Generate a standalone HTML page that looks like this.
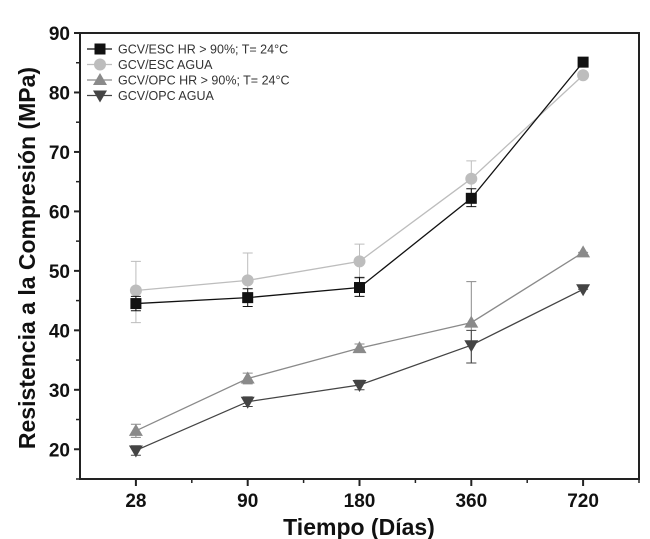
<!DOCTYPE html>
<html><head><meta charset="utf-8">
<style>
html,body{margin:0;padding:0;background:#fff;}
svg{display:block;font-family:"Liberation Sans",Arial,sans-serif;}
</style></head>
<body>
<svg id="chart" width="650" height="539" viewBox="0 0 650 539">
</svg>
<script>
const categories = ["28","90","180","360","720"];
const yTicks = [20,30,40,50,60,70,80,90];
const seriesNames = ["GCV/ESC HR > 90%; T= 24°C","GCV/ESC  AGUA","GCV/OPC HR > 90%; T= 24°C","GCV/OPC AGUA"];
const escHR = [44.5,45.5,47.2,62.2,85.1];
const escHRLo = [43.3,44.0,45.7,60.8,85.1];
const escHRHi = [45.7,47.0,48.9,63.8,85.1];
const escAgua = [46.7,48.4,51.6,65.5,82.9];
const escAguaLo = [41.3,46.0,48.7,62.5,82.9];
const escAguaHi = [51.6,53.0,54.5,68.5,82.9];
const opcHR = [23.1,31.9,37.0,41.3,53.1];
const opcHRLo = [22.0,31.0,36.3,34.5,53.1];
const opcHRHi = [24.2,32.8,37.7,48.2,53.1];
const opcAgua = [19.8,28.0,30.8,37.5,46.9];
const opcAguaLo = [19.0,27.2,30.0,34.5,46.9];
const opcAguaHi = [20.6,28.8,31.6,40.0,46.9];

const NS="http://www.w3.org/2000/svg";
const svg=document.getElementById('chart');
const L=80,R=639,T=33,B=479,yMin=15,yMax=90;
function xs(i){return L+(i+0.5)*(R-L)/categories.length;}
function ys(v){return B-(v-yMin)/(yMax-yMin)*(B-T);}
function mk(tag,attrs,parent){const e=document.createElementNS(NS,tag);for(const k in attrs)e.setAttribute(k,attrs[k]);(parent||svg).appendChild(e);return e;}

const frame=mk('rect',{x:L,y:T,width:R-L,height:B-T,fill:'none',stroke:'#222','stroke-width':2});



yTicks.forEach(v=>{
  const y=ys(v);
  const t=mk('line',{x1:L-6,x2:L,y1:y,y2:y,stroke:'#222','stroke-width':2});
  
  
  const m=mk('line',{x1:L-4,x2:L,y1:ys(v-5),y2:ys(v-5),stroke:'#222','stroke-width':1.5});
  
  
  const lb=mk('text',{x:L-10,y:y+7,'text-anchor':'end','font-size':19,'font-weight':'bold',fill:'#111'});
  lb.textContent=v;
  
  
});
categories.forEach((c,i)=>{
  const x=xs(i);
  const t=mk('line',{x1:x,x2:x,y1:B,y2:B+7,stroke:'#222','stroke-width':2});
  
  
  const mx=x+(R-L)/categories.length/2;
  const m=mk('line',{x1:mx,x2:mx,y1:B,y2:B+4,stroke:'#222','stroke-width':1.5});
  
  
  const lb=mk('text',{x:x,y:B+28,'text-anchor':'middle','font-size':19,'font-weight':'bold',fill:'#111'});
  lb.textContent=c;
  
  
});

const yt=mk('text',{x:0,y:0,transform:'translate(35,258) rotate(-90)','text-anchor':'middle','font-size':23,'font-weight':'bold',fill:'#111'});
yt.textContent='Resistencia a la Compresión (MPa)';


const xt=mk('text',{x:359,y:535,'text-anchor':'middle','font-size':23,'font-weight':'bold',fill:'#111'});
xt.textContent='Tiempo (Días)';



function marker(shape,x,y,color,g){
  let e;
  if(shape==='square') e=mk('rect',{x:x-5.5,y:y-5.5,width:11,height:11,fill:color},g);
  else if(shape==='circle') e=mk('circle',{cx:x,cy:y,r:6,fill:color},g);
  else if(shape==='up') e=mk('polygon',{points:`${x},${y-7} ${x-7},${y+5} ${x+7},${y+5}`,fill:color},g);
  else e=mk('polygon',{points:`${x},${y+7} ${x-7},${y-5} ${x+7},${y-5}`,fill:color},g);
  return e;
}
const series=[
 {vals:escAgua,lo:escAguaLo,hi:escAguaHi,color:'#bdbdbd',shape:'circle',name:'series-esc-agua'},
 {vals:escHR,lo:escHRLo,hi:escHRHi,color:'#111',shape:'square',name:'series-esc-hr'},
 {vals:opcHR,lo:opcHRLo,hi:opcHRHi,color:'#8a8a8a',shape:'up',name:'series-opc-hr'},
 {vals:opcAgua,lo:opcAguaLo,hi:opcAguaHi,color:'#444',shape:'down',name:'series-opc-agua'}
];
series.forEach(s=>{
  const g=mk('g',{});
  
  
  const pl=mk('polyline',{points:s.vals.map((v,i)=>xs(i)+','+ys(v)).join(' '),fill:'none',stroke:s.color,'stroke-width':1.3},g);
  
  
  s.vals.forEach((v,i)=>{
    const x=xs(i);
    const eb=mk('path',{d:`M${x},${ys(s.lo[i])}V${ys(s.hi[i])}M${x-5},${ys(s.lo[i])}H${x+5}M${x-5},${ys(s.hi[i])}H${x+5}`,stroke:s.color,'stroke-width':1,fill:'none'},g);
    
    
    const m=marker(s.shape,x,ys(v),s.color,g);
    
    
  });
});

const leg=mk('g',{});


const legShapes=['square','circle','up','down'];
const legColors=['#111','#bdbdbd','#8a8a8a','#444'];
seriesNames.forEach((n,i)=>{
  const y=49+i*15.5;
  const ln=mk('line',{x1:87,x2:112,y1:y,y2:y,stroke:legColors[i],'stroke-width':1.3},leg);
  
  
  const m=marker(legShapes[i],100,y,legColors[i],leg);
  
  
  const t=mk('text',{x:118,y:y+4.5,'font-size':12.5,fill:'#333'},leg);
  t.textContent=n;
  
  
});
</script>
</body></html>
